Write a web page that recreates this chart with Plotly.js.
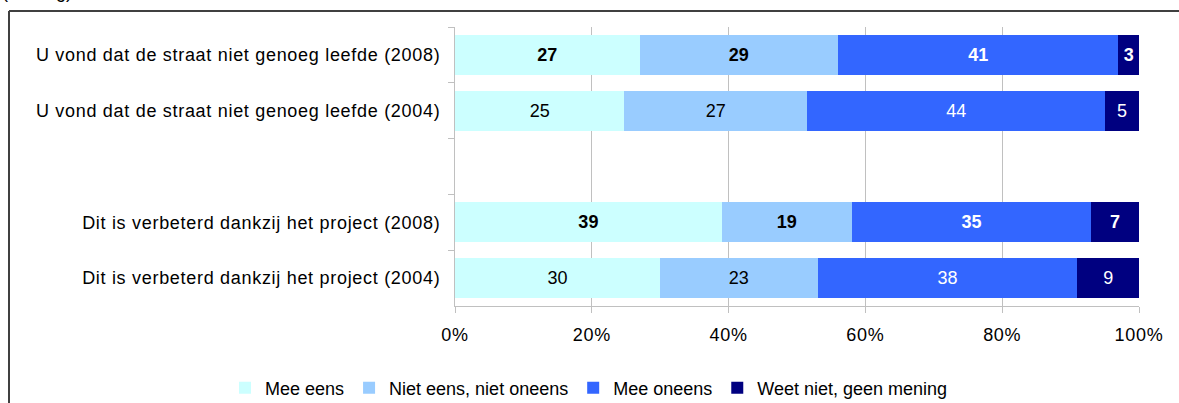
<!DOCTYPE html>
<html><head><meta charset="utf-8">
<script src="https://cdn.plot.ly/plotly-3.0.1.min.js"></script>
<style>html,body{margin:0;padding:0;background:#fff;}#chart{width:1179px;height:403px;}
#chart .ytick text, #chart .xtick text{letter-spacing:0.7px;}</style>
</head><body><div id="chart"></div>
<script>
const categories = [
  "U vond dat de straat niet genoeg leefde (2008)",
  "U vond dat de straat niet genoeg leefde (2004)",
  " ",
  "Dit is verbeterd dankzij het project (2008)",
  "Dit is verbeterd dankzij het project (2004)"
];
const boldRows = [true, false, false, true, false];
const seriesNames = ["Mee eens", "Niet eens, niet oneens", "Mee oneens", "Weet niet, geen mening"];
const meeEens   = [27, 25, null, 39, 30];
const nietEens  = [29, 27, null, 19, 23];
const meeOneens = [41, 44, null, 35, 38];
const weetNiet  = [3, 5, null, 7, 9];
const colors = ["#CCFFFF", "#99CCFF", "#3366FF", "#000080"];
const textColors = ["#000000", "#000000", "#FFFFFF", "#FFFFFF"];
const xTicks = [0, 20, 40, 60, 80, 100];

const FONT = "Liberation Sans, Arial, sans-serif";
const FS = 18;
const allSeries = [meeEens, nietEens, meeOneens, weetNiet];
const traces = allSeries.map((vals, i) => ({
  type: "bar",
  orientation: "h",
  name: seriesNames[i],
  y: categories,
  x: vals,
  marker: {color: colors[i], line: {width: 0}},
  text: vals.map((v, r) => v == null ? "" : (boldRows[r] ? "<b>" + v + "</b>" : String(v))),
  textposition: "inside",
  insidetextanchor: "middle",
  textangle: 0,
  constraintext: "none",
  textfont: {family: FONT, size: FS, color: textColors[i]},
  hoverinfo: "skip"
}));

// pixel geometry helpers for decoration
const W = 1179, H = 403, ml = 455, mr = 40, mt = 27, mb = 97;
const pw = W - ml - mr, ph = H - mt - mb;
const px = x => (x - ml) / pw;
const py = y => (H - mb - y) / ph;

const layout = {
  width: W, height: H,
  margin: {l: ml, r: mr, t: mt, b: mb, pad: 0, autoexpand: false},
  paper_bgcolor: "#ffffff",
  plot_bgcolor: "#ffffff",
  barmode: "stack",
  barnorm: "percent",
  bargap: 0.29,
  showlegend: true,
  font: {family: FONT, size: FS, color: "#000000"},
  xaxis: {
    range: [0, 100],
    tickvals: xTicks,
    ticktext: xTicks.map(t => t + "%"),
    showgrid: true, gridcolor: "#c0c0c0", gridwidth: 1,
    showline: true, linecolor: "#c0c0c0", linewidth: 1,
    ticks: "outside", ticklen: 6, tickcolor: "#c0c0c0",
    ticklabelstandoff: 6,
    zeroline: false,
    tickfont: {family: FONT, size: FS, color: "#000"},
    fixedrange: true
  },
  yaxis: {
    type: "category",
    categoryorder: "array",
    categoryarray: categories,
    autorange: "reversed",
    tickson: "boundaries",
    showgrid: false,
    showline: true, linecolor: "#c0c0c0", linewidth: 1,
    ticks: "outside", ticklen: 6, tickcolor: "#c0c0c0",
    ticklabelstandoff: 10,
    tickfont: {family: FONT, size: FS, color: "#000"},
    fixedrange: true
  },
  legend: {
    orientation: "h",
    traceorder: "normal",
    x: px(225), xanchor: "left",
    y: py(388), yanchor: "middle",
    font: {family: FONT, size: FS, color: "#000"},
    itemwidth: 30,
    bgcolor: "rgba(0,0,0,0)"
  },
  shapes: [
    {type: "line", xref: "paper", yref: "paper", x0: px(9), x1: px(9), y0: py(11), y1: py(404), line: {color: "#404040", width: 2}},
    {type: "line", xref: "paper", yref: "paper", x0: px(9), x1: px(1180), y0: py(11), y1: py(11), line: {color: "#404040", width: 2}}
  ],
  annotations: [
    {text: "(vervolg)", xref: "paper", yref: "paper", x: px(0), y: py(4), xanchor: "left", yanchor: "bottom", showarrow: false, font: {family: FONT, size: FS, color: "#000"}}
  ]
};

Plotly.newPlot("chart", traces, layout, {displayModeBar: false, staticPlot: true});
</script></body></html>
